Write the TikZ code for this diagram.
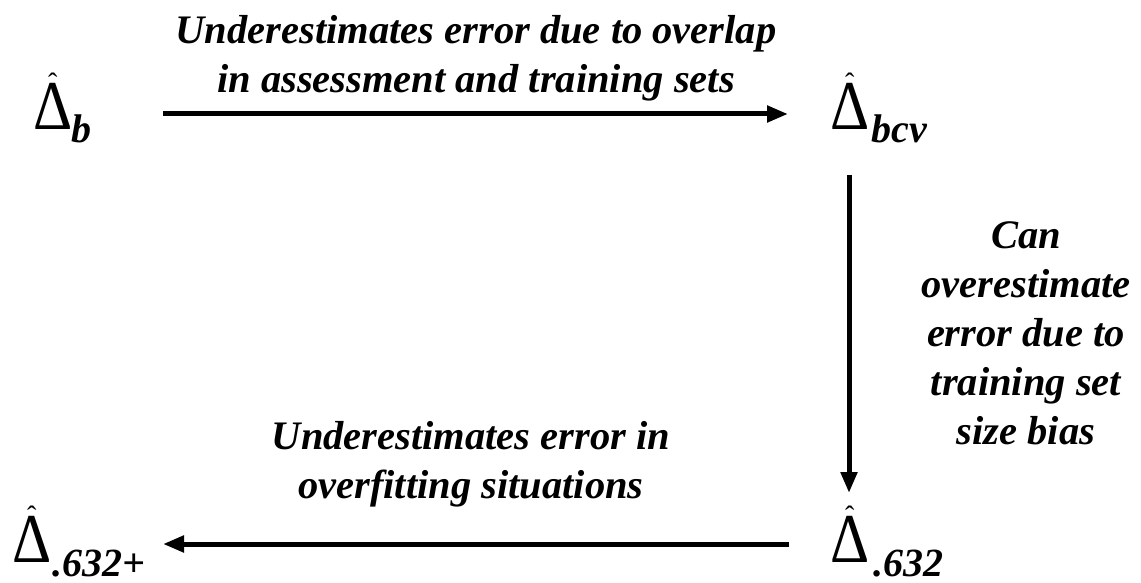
\documentclass[tikz,border=0pt]{standalone}
\usepackage{fontspec}
\usepackage{graphicx}
\setmainfont{Liberation Serif}
\usetikzlibrary{arrows.meta,calc}
\newcommand{\mydelta}{\scalebox{0.87}[1]{Δ}}
\begin{document}
\begin{tikzpicture}[x=1pt,y=-1pt,
  delta/.style={inner sep=0pt,anchor=base west,font=\fontsize{70}{70}\selectfont},
  hatmark/.style={inner sep=0pt,anchor=base,font=\fontsize{28}{28}\selectfont},
  sub/.style={inner sep=0pt,anchor=base west,font=\fontsize{40}{40}\selectfont\bfseries\itshape},
  lbl/.style={inner sep=0pt,align=center,font=\fontsize{40.5}{49.2}\selectfont\bfseries\itshape},
  arr/.style={line width=5pt,-{Triangle[length=21pt,width=16pt]}}]
\useasboundingbox (0,0) rectangle (1141,583);
% estimators
\node[delta] (d1) at (33,130) {\mydelta};
\node[hatmark] (h1) at ($(d1.base)+(0,-37)$) {\symbol{"02C6}};
\node[sub] (s1) at ($(d1.base east)+(-1,13)$) {b};
\node[delta] (d2) at (830,130) {\mydelta};
\node[hatmark] (h2) at ($(d2.base)+(0,-37)$) {\symbol{"02C6}};
\node[sub] (s2) at ($(d2.base east)+(2,13)$) {bcv};
\node[delta] (d3) at (830,562) {\mydelta};
\node[hatmark] (h3) at ($(d3.base)+(0,-37)$) {\symbol{"02C6}};
\node[sub] (s3) at ($(d3.base east)+(4,14)$) {.632};
\node[delta] (d4) at (12,562) {\mydelta};
\node[hatmark] (h4) at ($(d4.base)+(0,-37)$) {\symbol{"02C6}};
\node[sub] (s4) at ($(d4.base east)+(1,14)$) {.632+};
% arrow ends
\coordinate (a1s) at (163,114);
\coordinate (a1e) at (788,114);
\coordinate (a2s) at (849,175);
\coordinate (a2e) at (849,493);
\coordinate (a3s) at (789,544);
\coordinate (a3e) at (163,544);
\draw[arr] (a1s) -- (a1e);
\draw[arr] (a2s) -- (a2e);
\draw[arr] (a3s) -- (a3e);
% labels
\node[lbl,anchor=north] (t1) at (476,15) {Underestimates error due to overlap\\in assessment and training sets};
\node[lbl,anchor=north] (t2) at (1026,221) {Can\\overestimate\\error due to\\training set\\size bias};
\node[lbl,anchor=north] (t3) at (471,421) {Underestimates error in\\overfitting situations};
\end{tikzpicture}
\end{document}
